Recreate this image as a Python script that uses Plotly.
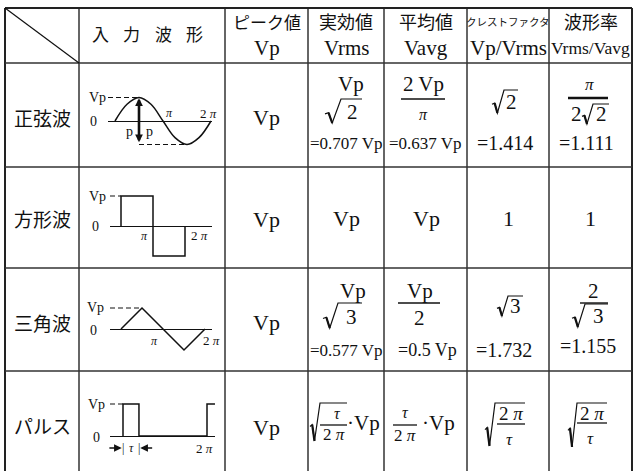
import plotly.graph_objects as go

W, H = 633, 471

# ---------------- data ----------------
row_labels = ["正弦波", "方形波", "三角波", "パルス"]
header_names = ["入力波形", "ピーク値", "実効値", "平均値", "クレストファクタ", "波形率"]
header_symbols = ["", "Vp", "Vrms", "Vavg", "Vp/Vrms", "Vrms/Vavg"]
peak_values = ["Vp", "Vp", "Vp", "Vp"]
rms_decimals = ["=0.707 Vp", "", "=0.577 Vp", ""]
avg_decimals = ["=0.637 Vp", "", "=0.5 Vp", ""]
crest_decimals = ["=1.414", "", "=1.732", ""]
form_decimals = ["=1.111", "", "=1.155", ""]
square_row_values = ["Vp", "Vp", "1", "1"]   # Vrms, Vavg, crest, form for 方形波
wave_level_labels = ["Vp", "0"]
wave_phase_labels = ["π", "2 π"]
pp_label = "p"
tau_label = "τ"

# waveforms: phase in units of π, level in units of Vp
sine_phase = [0, 0.25, 0.5, 0.75, 1, 1.25, 1.5, 1.75, 2]
sine_level = [0, 0.71, 1, 0.71, 0, -0.71, -1, -0.71, 0]
square_phase = [0, 0, 1, 1, 2, 2]
square_level = [0, 1, 1, -1, -1, 0]
triangle_phase = [0, 0.5, 1, 1.5, 2]
triangle_level = [0, 1, 0, -1, 0]
pulse_tau = 0.38
pulse_phase = [0, 0, pulse_tau, pulse_tau, 2, 2, 2.19]
pulse_level = [0, 1, 1, 0, 0, 1, 1]

# ---------------- styles ----------------
LIB = "Liberation Serif, DejaVu Serif"
JP = "Noto Sans CJK JP"
INK = "#111"
GRID = "#333"

col_x = [5, 79, 225, 308, 384, 467, 549, 632]
row_y = [8, 63, 167, 268, 371, 471]

ann = []
shapes = []


def T(x, y, s, size, family=LIB, xanchor="center"):
    ann.append(dict(x=x, y=y, xref="x", yref="y", text=s, showarrow=False,
                    font=dict(size=size, family=family, color=INK),
                    xanchor=xanchor, yanchor="middle"))


def L(x0, y0, x1, y1, w=1.3, color=INK):
    shapes.append(dict(type="line", xref="x", yref="y", x0=x0, y0=y0, x1=x1, y1=y1,
                       line=dict(color=color, width=w), layer="above"))


def R(xl, yt, yb, xr, wr=12):
    h = yb - yt
    ym = yt + 0.62 * h
    p1 = (xl + 0.22 * wr, ym - 0.05 * h)
    p2 = (xl + 0.45 * wr, yb)
    p3 = (xl + wr, yt)
    path = f"M{xl},{ym} L{p1[0]},{p1[1]} L{p2[0]},{p2[1]} L{p3[0]},{p3[1]} L{xr},{yt}"
    shapes.append(dict(type="path", xref="x", yref="y", path=path,
                       line=dict(color=INK, width=1.2), layer="above"))
    shapes.append(dict(type="line", xref="x", yref="y", x0=p1[0], y0=p1[1], x1=p2[0], y1=p2[1],
                       line=dict(color=INK, width=2.2), layer="above"))


def PI(s):
    return s.replace("π", "<i>π</i>").replace("τ", "<i>τ</i>")


# ---------------- grid ----------------
for i, x in enumerate(col_x):
    outer = i in (0, len(col_x) - 1)
    L(x, row_y[0], x, row_y[-1], w=2 if outer else 1.5, color="#222" if outer else GRID)
for i, y in enumerate(row_y[:-1]):
    L(col_x[0], y, col_x[-1], y, w=2 if i == 0 else 1.5, color="#222" if i == 0 else GRID)
L(col_x[0], row_y[0], col_x[1], row_y[1], w=1.2)

# ---------------- header ----------------
cx = [(col_x[i] + col_x[i + 1]) / 2 for i in range(len(col_x) - 1)]
for k, ch in enumerate(header_names[0]):
    T(100 + k * 31.5, 33, ch, 17, JP)
T(cx[2], 21, header_names[1], 17, JP)
T(cx[2], 48, header_symbols[1], 21)
T(cx[3], 21, header_names[2], 18, JP)
T(cx[3], 48, header_symbols[2], 21)
T(cx[4], 21, header_names[3], 18, JP)
T(cx[4], 48, header_symbols[3], 21)
T(cx[5], 21, header_names[4], 10.5, JP)
T(cx[5], 48, header_symbols[4], 21)
T(cx[6], 21, header_names[5], 18, JP)
T(cx[6], 48, header_symbols[5], 17.5)

# ---------------- row labels and peak column ----------------
row_label_y = [117, 218, 322, 425]
for lab, y in zip(row_labels, row_label_y):
    T(cx[0], y, lab, 19, JP)
peak_y = [117, 219, 322, 427]
for v, y in zip(peak_values, peak_y):
    T(cx[2], y, v, 22)

# ---------------- 正弦波 formulas ----------------
T(351, 84, "Vp", 21)
R(325, 99, 123, 362, wr=16)
T(352, 112, "2", 21)
T(cx[3], 143, rms_decimals[0], 17)

T(423, 84, "2 Vp", 21)
L(401, 99, 445, 99, 1.4)
T(423, 114, PI("π"), 16)
T(cx[4], 143, avg_decimals[0], 17)

R(492, 90, 113, 518, wr=12)
T(511, 102, "2", 21)
T(505, 143, crest_decimals[0], 20)

T(589, 84, PI("π"), 17)
L(568, 98, 608, 98, 2.6)
T(576, 114, "2", 21)
R(582, 104, 124, 609, wr=11)
T(601, 114, "2", 21)
T(586, 143, form_decimals[0], 20)

# ---------------- 方形波 values ----------------
for v, x in zip(square_row_values, [cx[3], cx[4] + 1, cx[5], cx[6]]):
    T(x, 218, v, 22)

# ---------------- 三角波 formulas ----------------
T(353, 291, "Vp", 21)
R(323, 303, 328, 362, wr=15)
T(351, 317, "3", 21)
T(cx[3], 350, rms_decimals[2], 17)

T(420, 291, "Vp", 21)
L(398, 303, 440, 303, 1.4)
T(419, 318, "2", 21)
T(427, 350, avg_decimals[2], 18)

R(497, 296, 316, 523, wr=11)
T(515, 306, "3", 21)
T(504, 350, crest_decimals[2], 20)

T(593, 291, "2", 21)
L(580, 303, 608, 303, 1.4)
R(572, 304, 327, 608, wr=13)
T(598, 316, "3", 21)
T(588, 346, form_decimals[2], 20)

# ---------------- パルス formulas ----------------
R(310, 403, 441, 347, wr=10)
T(337, 413, PI("τ"), 16)
L(320, 425, 347, 425, 1.3)
T(334, 434, PI("2 π"), 17)
T(363, 423, "·Vp", 21)

T(405, 412, PI("τ"), 16)
L(393, 425, 417, 425, 1.3)
T(405, 435, PI("2 π"), 17)
T(438, 423, "·Vp", 21)

R(485, 403, 446, 525, wr=10)
T(511, 413, PI("2 π"), 19)
L(497, 424, 525, 424, 1.3)
T(509, 439, PI("τ"), 17)

R(568, 403, 447, 607, wr=9)
T(592, 413, PI("2 π"), 19)
L(577, 423, 607, 423, 1.3)
T(590, 438, PI("τ"), 17)

# ---------------- waveforms ----------------
fig = go.Figure()

waves = [
    # (phase, level, x0px, x2px, y0px, amp_px, bx0, bx1, ty, by, spline)
    (sine_phase, sine_level, 115, 211, 121, 23.5, 108, 212, 66, 165, True),
    (square_phase, square_level, 121, 185, 226, 30, 110, 212, 170, 265, False),
    (triangle_phase, triangle_level, 121, 205, 329, 21, 110, 212, 271, 369, False),
    (pulse_phase, pulse_level, 123, 207, 436, 32, 110, 215, 374, 470, False),
]

layout_axes = {}
for i, (ph, lv, x0p, x2p, y0p, A, bx0, bx1, ty, by, spl) in enumerate(waves):
    n = i + 2
    s = (x2p - x0p) / 2.0
    xr = [(bx0 - x0p) / s, (bx1 - x0p) / s]
    yr = [(y0p - by) / A, (y0p - ty) / A]
    xa, ya = f"x{n}", f"y{n}"
    layout_axes[f"xaxis{n}"] = dict(domain=[bx0 / W, bx1 / W], range=xr, anchor=ya,
                                    showgrid=False, zeroline=False, showticklabels=False,
                                    showline=False, ticks="", fixedrange=True)
    layout_axes[f"yaxis{n}"] = dict(domain=[1 - by / H, 1 - ty / H], range=yr, anchor=xa,
                                    showgrid=False, zeroline=True, zerolinecolor=INK,
                                    zerolinewidth=1.3, showticklabels=False,
                                    showline=False, ticks="", fixedrange=True)
    peak_idx = lv.index(1)
    # dashed Vp guide
    fig.add_trace(go.Scatter(x=[xr[0], ph[peak_idx]], y=[1, 1], mode="lines",
                             line=dict(color=INK, width=1.1, dash="5px,3px"),
                             xaxis=xa, yaxis=ya, hoverinfo="skip", showlegend=False))
    if i == 0:
        trough_idx = lv.index(-1)
        fig.add_trace(go.Scatter(x=[ph[peak_idx], ph[trough_idx]], y=[-1, -1], mode="lines",
                                 line=dict(color=INK, width=1.1, dash="5px,3px"),
                                 xaxis=xa, yaxis=ya, hoverinfo="skip", showlegend=False))
    fig.add_trace(go.Scatter(x=ph, y=lv, mode="lines",
                             line=dict(color=INK, width=1.5,
                                       shape="spline" if spl else "linear", smoothing=1.0),
                             xaxis=xa, yaxis=ya, hoverinfo="skip", showlegend=False))

# peak-to-peak arrow on sine
peak_phase = sine_phase[sine_level.index(1)]
ann.append(dict(x=peak_phase, y=0.97, ax=peak_phase, ay=-0.97, xref="x2", yref="y2",
                axref="x2", ayref="y2", text="", showarrow=True, arrowside="end+start",
                arrowhead=2, startarrowhead=2, arrowsize=0.6, startarrowsize=0.6,
                arrowwidth=2.6, arrowcolor=INK, standoff=0, startstandoff=0))
# tau arrows on pulse
ann.append(dict(x=-0.03, y=-0.375, ax=-0.36, ay=-0.375, xref="x5", yref="y5",
                axref="x5", ayref="y5", text="", showarrow=True, arrowhead=2,
                arrowsize=1.1, arrowwidth=1.4, arrowcolor=INK, standoff=0))
ann.append(dict(x=pulse_tau + 0.03, y=-0.375, ax=0.73, ay=-0.375, xref="x5", yref="y5",
                axref="x5", ayref="y5", text="", showarrow=True, arrowhead=2,
                arrowsize=1.1, arrowwidth=1.4, arrowcolor=INK, standoff=0))

# waveform labels (pixel positions)
lab_pos = [
    # Vp, 0, π, 2π
    [(97, 97), (93, 121), (169, 113), (208, 113)],
    [(97, 196), (95, 226), (144, 236), (199, 235)],
    [(95, 307), (93, 330), (154, 341), (211, 340)],
    [(96, 404), (96, 437), None, (204, 448)],
]
for pos in lab_pos:
    T(pos[0][0], pos[0][1], wave_level_labels[0], 14)
    T(pos[1][0], pos[1][1], wave_level_labels[1], 14)
    if pos[2]:
        T(pos[2][0], pos[2][1], PI(wave_phase_labels[0]), 12)
    T(pos[3][0], pos[3][1], PI(wave_phase_labels[1]), 13)
T(129, 131, pp_label, 14)
T(149, 131, pp_label, 14)
T(123, 448, "|", 12)
T(131, 448, PI(tau_label), 12)
T(139, 448, "|", 12)

fig.update_layout(
    width=W, height=H, margin=dict(l=0, r=0, t=0, b=0),
    paper_bgcolor="white", plot_bgcolor="rgba(0,0,0,0)",
    xaxis=dict(domain=[0, 1], range=[0, W], visible=False, fixedrange=True),
    yaxis=dict(domain=[0, 1], range=[H, 0], visible=False, fixedrange=True),
    annotations=ann, shapes=shapes, showlegend=False,
    **layout_axes,
)

fig.write_html(
    "out.html",
    config={"displayModeBar": False},
    post_script="document.body.style.margin='0';document.body.style.padding='0';"
                "document.body.style.overflow='hidden';",
)
